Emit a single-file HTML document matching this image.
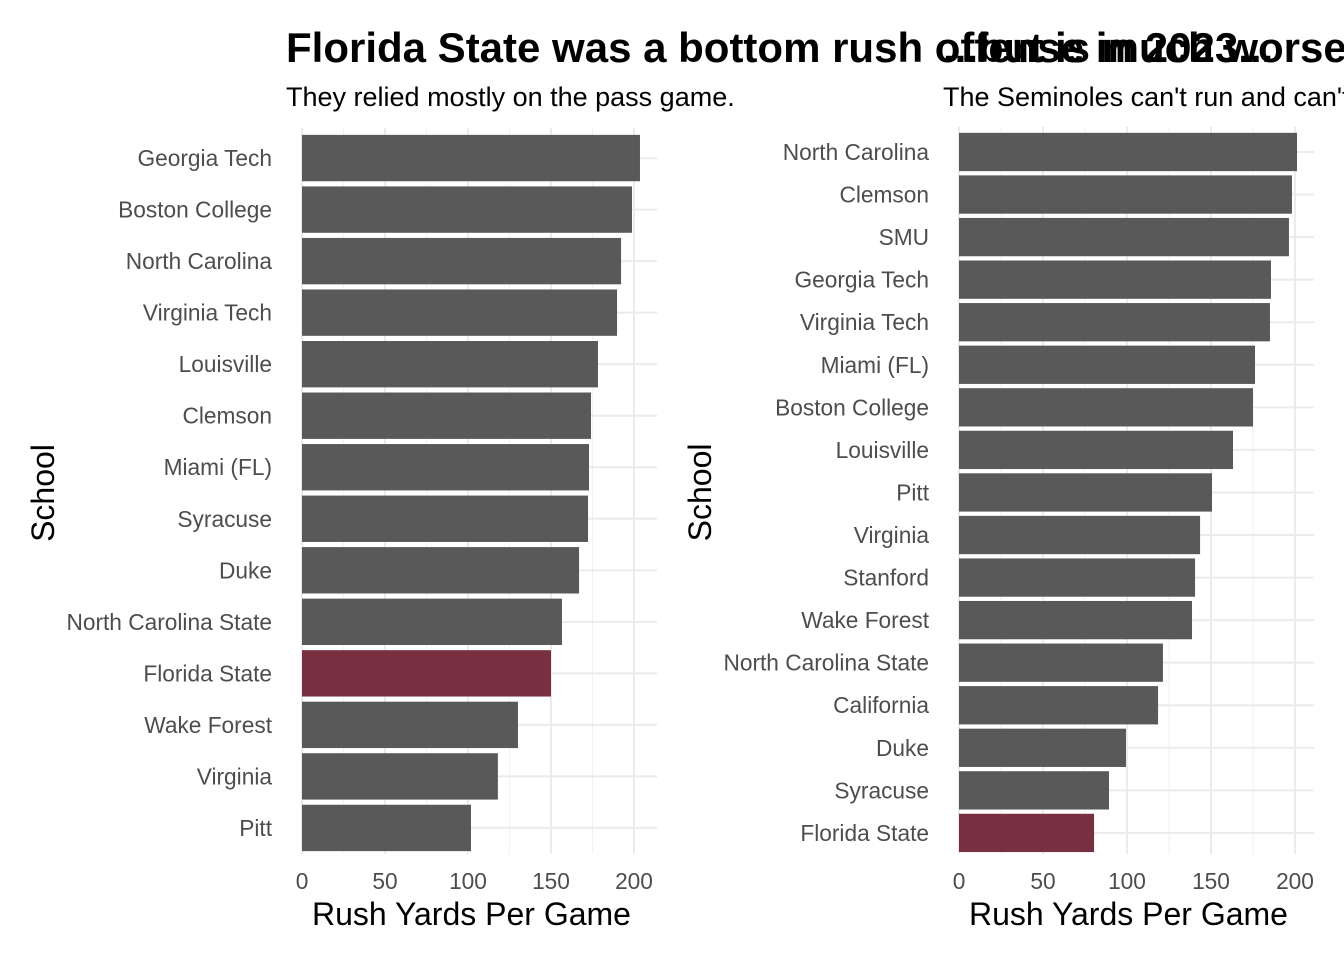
<!DOCTYPE html>
<html><head><meta charset="utf-8"><style>
html,body{margin:0;padding:0;background:#fff;}
svg{display:block;font-family:"Liberation Sans",Arial,sans-serif;}
</style></head><body>
<svg id="chart" width="1344" height="960" viewBox="0 0 1344 960">
<text x="286" y="62" font-size="42" font-weight="bold" fill="#000">Florida State was a bottom rush offense in 2023...</text>
<text x="286" y="106" font-size="27" fill="#000">They relied mostly on the pass game.</text>
<text x="943" y="62" font-size="42" font-weight="bold" fill="#000">...but is much worse in 2024</text>
<text x="943" y="106" font-size="27" fill="#000">The Seminoles can't run and can't pass.</text>
<g id="left"></g>
<g id="right"></g>
</svg>
<script>
const leftSchools=["Georgia Tech","Boston College","North Carolina","Virginia Tech","Louisville","Clemson","Miami (FL)","Syracuse","Duke","North Carolina State","Florida State","Wake Forest","Virginia","Pitt"];
const leftValues=[203.6,198.8,192.2,189.8,178.3,174.1,172.9,172.3,166.9,156.6,150,130.1,118,101.8];
const rightSchools=["North Carolina","Clemson","SMU","Georgia Tech","Virginia Tech","Miami (FL)","Boston College","Louisville","Pitt","Virginia","Stanford","Wake Forest","North Carolina State","California","Duke","Syracuse","Florida State"];
const rightValues=[201.2,198.2,196.4,185.7,185.1,176.2,175,163.1,150.6,143.5,140.5,138.7,121.4,118.5,99.4,89.3,80.4];
const xTicks=[0,50,100,150,200];
const NS="http://www.w3.org/2000/svg";
function mk(parent,tag,attrs,text){const e=document.createElementNS(NS,tag);for(const k in attrs)e.setAttribute(k,attrs[k]);if(text!==undefined)e.textContent=text;parent.appendChild(e);return e;}
function panel(g,schools,values,x0,x200,xRight,yTop,yBot,titleX,prefix){
  const sx=v=>x0+(x200-x0)*v/200;
  const n=schools.length;const step=(yBot-yTop)/n;
  const sy=i=>yTop+step*(i+0.5);
  const bh=step*0.9;
  for(let t=25;t<=225;t+=50){const x=sx(t);if(x<xRight)mk(g,'line',{x1:x,x2:x,y1:yTop-4,y2:yBot,stroke:'#f2f2f2','stroke-width':1});}
  xTicks.forEach(t=>{const x=sx(t);mk(g,'line',{x1:x,x2:x,y1:yTop-4,y2:yBot,stroke:'#ebebeb','stroke-width':2});
    const l=mk(g,'text',{x:x,y:889,'font-size':22.7,fill:'#4d4d4d','text-anchor':'middle'},String(t));
    
    });
  schools.forEach((s,i)=>{mk(g,'line',{x1:x0,x2:xRight,y1:sy(i),y2:sy(i),stroke:'#ebebeb','stroke-width':2});});
  schools.forEach((s,i)=>{
    const r=mk(g,'rect',{x:x0,y:sy(i)-bh/2,width:sx(values[i])-x0,height:bh,fill:s==="Florida State"?'#782F40':'#595959'});
    
    
    const l=mk(g,'text',{x:x0-30,y:sy(i)+8,'font-size':22.7,fill:'#4d4d4d','text-anchor':'end'},s);
    
    
  });
  const xt=mk(g,'text',{x:(x0+xRight)/2-8,y:925,'font-size':32,fill:'#000','text-anchor':'middle'},'Rush Yards Per Game');
  
  
  const yt=mk(g,'text',{x:0,y:0,'font-size':32,fill:'#000','text-anchor':'middle',transform:`translate(${titleX},${(yTop+yBot)/2}) rotate(-90)`},'School');
  
  
}
panel(document.getElementById('left'),leftSchools,leftValues,302,634,657,132.3,853.7,54,'left');
panel(document.getElementById('right'),rightSchools,rightValues,959,1295,1314,130.7,854.2,711,'right');
</script>
</body></html>
